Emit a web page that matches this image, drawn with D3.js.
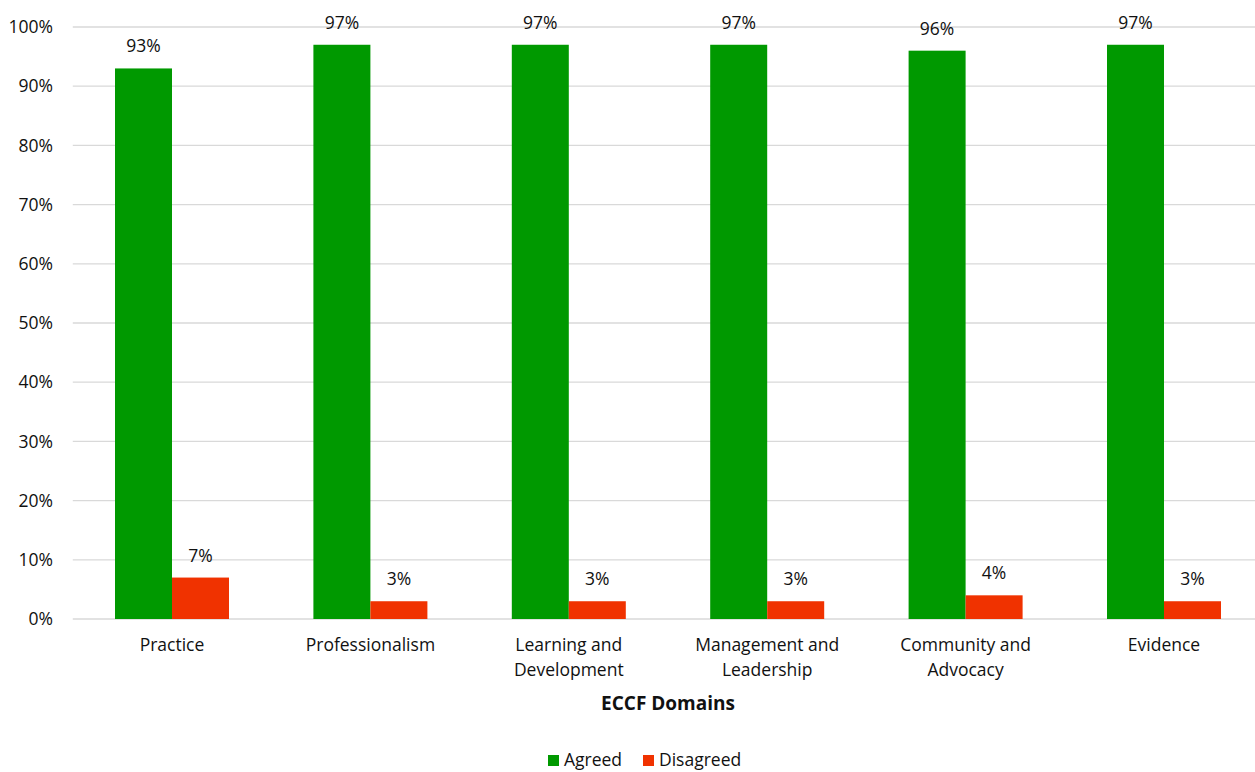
<!DOCTYPE html>
<html>
<head>
<meta charset="utf-8">
<script src="https://cdn.jsdelivr.net/npm/d3@7"></script>
<style>
body { margin: 0; background: #fff; overflow: hidden; }
text { font-family: "Open Sans", sans-serif; fill: #111; }
</style>
</head>
<body>
<div id="chart"></div>
<script>
// data
let domains = [["Practice"], ["Professionalism"], ["Learning and", "Development"], ["Management and", "Leadership"], ["Community and", "Advocacy"], ["Evidence"]];
let agreed = [93, 97, 97, 97, 96, 97];
let disagreed = [7, 3, 3, 3, 4, 3];
let seriesNames = ["Agreed", "Disagreed"];
let colors = ["#009900", "#f03200"];
let yTicks = [0, 10, 20, 30, 40, 50, 60, 70, 80, 90, 100];

let svgWidth = 1255;
let svgHeight = 772;

let plotLeft = 72.8, plotRight = 1263.2;
let plotTop = 27, plotBottom = 619;
let fs = 17.5;

let svg = d3.select("#chart")
	.append("svg")
	.attr("width", svgWidth)
	.attr("height", svgHeight);

let x0 = d3.scaleBand()
	.domain(d3.range(domains.length))
	.range([plotLeft, plotRight]);

let x1 = d3.scaleBand()
	.domain([0, 1])
	.range([0, 114]);

let y = d3.scaleLinear()
	.domain([0, 100])
	.range([plotBottom, plotTop]);

// gridlines
svg.append("g")
	.selectAll("line")
	.data(yTicks)
	.enter()
	.append("line")
	.attr("x1", plotLeft)
	.attr("x2", svgWidth)
	.attr("y1", d => y(d))
	.attr("y2", d => y(d))
	.attr("stroke", "#d9d9d9")
	.attr("stroke-width", 1.3);

// y axis labels
let yAxis = d3.axisLeft(y)
	.tickValues(yTicks)
	.tickFormat(d => d + "%")
	.tickSize(0)
	.tickPadding(0);

svg.append("g")
	.attr("transform", "translate(53,0)")
	.call(yAxis)
	.call(g => g.select(".domain").remove())
	.call(g => g.selectAll("text").attr("font-size", fs).attr("font-family", "Open Sans").attr("fill", "#111"));

let rows = domains.map((d, i) => ({ i: i, vals: [agreed[i], disagreed[i]] }));

let groups = svg.selectAll(".grp")
	.data(rows)
	.enter()
	.append("g")
	.attr("class", "grp")
	.attr("transform", d => `translate(${x0(d.i) + x0.bandwidth() / 2 - 57}, 0)`);

groups.selectAll("rect")
	.data(d => d.vals.map((v, k) => ({ v: v, k: k })))
	.enter()
	.append("rect")
	.attr("x", d => x1(d.k))
	.attr("y", d => y(d.v))
	.attr("width", x1.bandwidth())
	.attr("height", d => y(0) - y(d.v))
	.attr("fill", d => colors[d.k]);

groups.selectAll(".val")
	.data(d => d.vals.map((v, k) => ({ v: v, k: k })))
	.enter()
	.append("text")
	.attr("class", "val")
	.attr("x", d => x1(d.k) + x1.bandwidth() / 2)
	.attr("y", d => y(d.v) - 16)
	.attr("text-anchor", "middle")
	.attr("font-size", fs)
	.text(d => d.v + "%");

// category labels
let cats = svg.append("g")
	.selectAll("text")
	.data(domains)
	.enter()
	.append("text")
	.attr("x", (d, i) => x0(i) + x0.bandwidth() / 2)
	.attr("y", 651)
	.attr("text-anchor", "middle")
	.attr("font-size", fs);

cats.selectAll("tspan")
	.data(d => d)
	.enter()
	.append("tspan")
	.attr("x", function() { return d3.select(this.parentNode).attr("x"); })
	.attr("dy", (d, j) => j === 0 ? 0 : 25)
	.text(d => d);

svg.append("text")
	.attr("x", (plotLeft + plotRight) / 2)
	.attr("y", 710)
	.attr("text-anchor", "middle")
	.attr("font-size", 19)
	.attr("font-weight", "bold")
	.text("ECCF Domains");

// legend
let legendX = [548, 643];
let legend = svg.append("g")
	.selectAll("g")
	.data(seriesNames)
	.enter()
	.append("g")
	.attr("transform", (d, i) => `translate(${legendX[i]}, 0)`);

legend.append("rect")
	.attr("x", 0)
	.attr("y", 755)
	.attr("width", 11)
	.attr("height", 11)
	.attr("fill", (d, i) => colors[i]);

legend.append("text")
	.attr("x", 16)
	.attr("y", 766)
	.attr("font-size", fs)
	.text(d => d);
</script>
</body>
</html>
